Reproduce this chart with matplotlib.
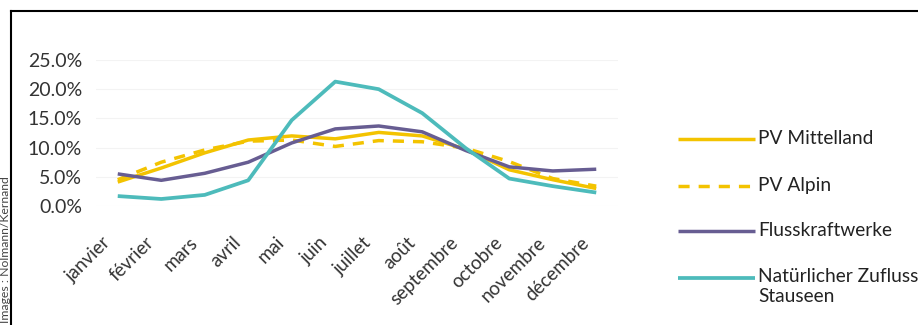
import matplotlib
matplotlib.use("Agg")
import matplotlib.pyplot as plt
from matplotlib.lines import Line2D
import matplotlib.transforms as mtransforms

plt.rcParams['font.family'] = ['Lato', 'DejaVu Sans']

# monthly shares in percent
months = ["janvier", "février", "mars", "avril", "mai", "juin", "juillet",
          "août", "septembre", "octobre", "novembre", "décembre"]
pv_mittelland = [4.1, 6.5, 9.1, 11.3, 12.0, 11.5, 12.6, 12.0, 9.7, 6.2, 4.5, 3.0]
pv_alpin = [4.5, 7.5, 9.6, 11.1, 11.3, 10.2, 11.2, 11.0, 9.9, 7.6, 4.7, 3.4]
flusskraftwerke = [5.5, 4.4, 5.6, 7.5, 10.8, 13.2, 13.7, 12.7, 9.5, 6.7, 6.0, 6.3]
zufluss_stauseen = [1.7, 1.2, 1.9, 4.4, 14.7, 21.3, 20.0, 15.9, 9.9, 4.7, 3.4, 2.3]

series_names = ["PV Mittelland", "PV Alpin", "Flusskraftwerke",
                "Natürlicher Zufluss\nStauseen"]
yticks = [0, 5, 10, 15, 20, 25]

W, H = 918, 325
fig = plt.figure(figsize=(W / 100, H / 100), dpi=100)
fig.patch.set_facecolor("white")

# plot area in pixels: x 96..618, y 60..206 (from top)
ax = fig.add_axes([96 / W, (H - 206) / H, 522 / W, 146 / H])

yellow = "#F3C300"
purple = "#675D92"
teal = "#4DBBBB"
styles = [
    dict(color=yellow, lw=2.5, ls="-"),
    dict(color=yellow, lw=2.5, ls=(0, (3.2, 2.6))),
    dict(color=purple, lw=2.5, ls="-"),
    dict(color=teal, lw=2.7, ls="-"),
]
data = [pv_mittelland, pv_alpin, flusskraftwerke, zufluss_stauseen]

x = list(range(len(months)))
for vals, st in zip(data, styles):
    ax.plot(x, vals, solid_capstyle="butt", **st)

ax.set_xlim(-0.5, len(months) - 0.5)
ax.set_ylim(0, 25)
ax.set_yticks(yticks)
ax.set_yticklabels(["%.1f%%" % v for v in yticks], fontsize=14, color="#333333")
ax.grid(axis="y", color="#f3f3f3", lw=0.8)
ax.set_axisbelow(True)
for s in ax.spines.values():
    s.set_visible(False)
ax.tick_params(axis="y", length=0, pad=10)
ax.tick_params(axis="x", length=0, pad=20)
ax.set_xticks(x)
ax.set_xticklabels(months, rotation=45, ha="right", va="top",
                   rotation_mode="anchor", fontsize=13.5, color="#333333")
off = mtransforms.ScaledTranslation(-11.5 / 72, 0, fig.dpi_scale_trans)
for lab in ax.get_xticklabels():
    lab.set_transform(lab.get_transform() + off)

# legend drawn by hand on the right
leg_y = [139, 186, 231, 278]
for name, st, yy in zip(series_names, styles, leg_y):
    fy = (H - yy) / H
    fig.add_artist(Line2D([678 / W, 755 / W], [fy, fy], color=st["color"],
                          lw=st["lw"], ls=st["ls"], solid_capstyle="butt"))
    for i, part in enumerate(name.split("\n")):
        fig.text(758 / W, (H - yy + 1 - 20 * i) / H, part, fontsize=13.8,
                 color="#222222", va="center")

# frame around the figure (cut on the right and bottom)
fig.add_artist(Line2D([11 / W, 1.0], [(H - 11) / H, (H - 11) / H], color="black", lw=1.5))
fig.add_artist(Line2D([11 / W, 11 / W], [0, (H - 11) / H], color="black", lw=1.5))

# photo credit along the left edge
fig.text(6 / W, 2 / H, "Images : Nolmann/Kernand", rotation=90,
         ha="center", va="bottom", fontsize=8.8, color="#444444")

fig.savefig("out.png", dpi=100)
